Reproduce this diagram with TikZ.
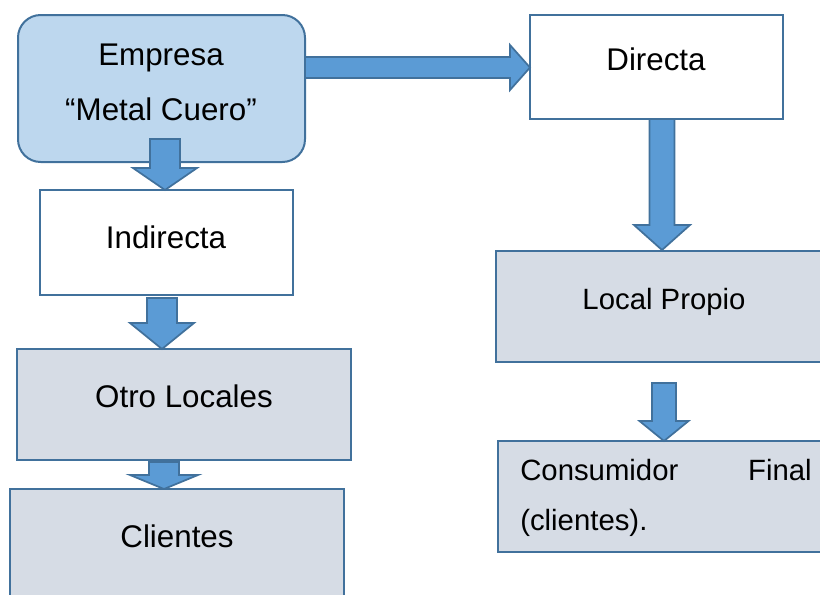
\documentclass[tikz,border=0pt]{standalone}
\usepackage{fontspec}
\setmainfont{Liberation Sans}
\usetikzlibrary{fit}
\definecolor{bordc}{HTML}{41719C}
\definecolor{arrc}{HTML}{5B9BD5}
\definecolor{grayc}{HTML}{D6DCE5}
\definecolor{lblue}{HTML}{BDD7EE}
\tikzset{
  box/.style={draw=bordc, line width=1.5pt, inner sep=0pt, rectangle},
  whitebox/.style={box, fill=white},
  graybox/.style={box, fill=grayc},
  roundbox/.style={box, fill=lblue, rounded corners=17pt},
  blk/.style={draw=bordc, fill=arrc, line width=1.3pt, line join=miter},
  bigtxt/.style={inner sep=0pt, font=\fontsize{23.5}{28}\selectfont},
  smalltxt/.style={inner sep=0pt, font=\fontsize{22}{26}\selectfont},
}
\newcommand{\blockdown}[6]{% cx, y0, y1, y2, shaft half, head half
  \draw[blk] ({#1-#5},#2) -- ({#1+#5},#2) -- ({#1+#5},#3) -- ({#1+#6},#3) -- (#1,#4) -- ({#1-#6},#3) -- ({#1-#5},#3) -- cycle;}
\begin{document}
\begin{tikzpicture}[x=0.75pt,y=-0.75pt]
\useasboundingbox (0,0) rectangle (820,594);
\clip (0,0) rectangle (820,594);
% boxes
\node[roundbox, fit={(18,15) (305,162)}] (emp) {};
\node[whitebox, fit={(530,15) (783,119)}] (dir) {};
\node[whitebox, fit={(40,190) (293,295)}] (ind) {};
\node[graybox, fit={(17,349) (351,460)}] (otro) {};
\node[graybox, fit={(10,489) (344,620)}] (cli) {};
\node[graybox, fit={(496,251) (834,362)}] (loc) {};
\node[graybox, fit={(498,441) (834,552)}] (con) {};
% texts
\node[bigtxt, anchor=base] (t1) at (161,65) {Empresa};
\node[bigtxt, anchor=base] (t2) at (161,120) {“Metal Cuero”};
\node[bigtxt, anchor=base] (t3) at (656,70) {Directa};
\node[bigtxt, anchor=base] (t4) at (166,248) {Indirecta};
\node[bigtxt, anchor=base] (t5) at (184,407) {Otro Locales};
\node[bigtxt, anchor=base] (t6) at (177,547) {Clientes};
\node[smalltxt, anchor=base] (t7) at (664,309) {Local Propio};
\node[smalltxt, anchor=base west] (t8) at (520,480) {Consumidor};
\node[smalltxt, anchor=base east] (t9) at (812,480) {Final};
\node[smalltxt, anchor=base west] (t10) at (520,530) {(clientes).};
% block arrows
\draw[blk] (305,57) -- (510,57) -- (510,45) -- (530,67.5) -- (510,90) -- (510,78) -- (305,78) -- cycle;
\blockdown{165}{139}{168}{190}{15}{32}
\blockdown{662}{119}{225}{250}{12.5}{28}
\blockdown{162}{298}{323}{349}{15}{32}
\blockdown{664}{383}{421}{441}{12}{24.5}
\blockdown{164}{462}{475}{489}{15}{34}
\end{tikzpicture}
\end{document}
